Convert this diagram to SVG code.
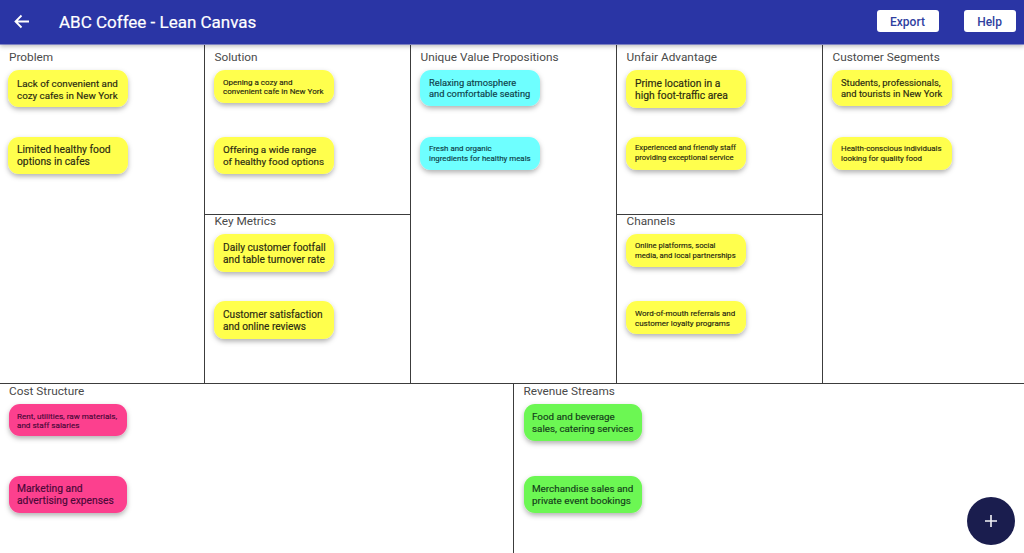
<svg xmlns="http://www.w3.org/2000/svg" width="1024" height="553" viewBox="0 0 1024 553">
<style>
text{font-family:Roboto,"Liberation Sans",sans-serif}
.h{font-size:11.800px;fill:#4a4a4a}
.n{filter:url(#s)}
.y{fill:#ffff4d}.c{fill:#6effff}.p{fill:#fc408e}.g{fill:#6cf752}
.t{fill:#2a2a12;stroke:#2a2a12;stroke-width:.15}
.tc{fill:#0f3f4a;stroke:#0f3f4a;stroke-width:.15}
.tp{fill:#4a0838;stroke:#4a0838;stroke-width:.15}
.tg{fill:#14401a;stroke:#14401a;stroke-width:.15}
.l{stroke:#3c3c3c;stroke-width:1;fill:none}
.b{font-size:12px;font-weight:500;fill:#303f9f;text-anchor:middle}
</style>
<defs>
<filter id="s" x="-20%" y="-30%" width="140%" height="170%"><feDropShadow dx="0" dy="2.500" stdDeviation="2.500" flood-color="#000" flood-opacity=".3"/></filter>
<filter id="h" x="-5%" y="-20%" width="110%" height="160%"><feDropShadow dx="0" dy="2" stdDeviation="2" flood-color="#000" flood-opacity=".25"/></filter>
</defs>
<rect width="1024" height="553" fill="#fff"/>
<g id="connectors">
<path class="l" d="M204.500 45V383.500M410.500 45V383.500M616.500 45V383.500M822.500 45V383.500M204.500 214.500H410.500M616.500 214.500H822.500M0 383.500H1024M513.500 383.500V553"/>
</g>
<g id="header">
<rect width="1024" height="44.500" fill="#2c35a5" filter="url(#h)"/>
<path d="M29 21.500H16M21.500 15.500L15.500 21.500L21.500 27.500" fill="none" stroke="#fff" stroke-width="1.800"/>
<text x="59" y="28" font-size="17px" fill="#fff" stroke="#fff" stroke-width=".2">ABC Coffee - Lean Canvas</text>
<rect x="877" y="10" width="62" height="22" rx="3" fill="#fff"/><text class="b" x="907.500" y="25.500">Export</text>
<rect x="964" y="10" width="52" height="22" rx="3" fill="#fff"/><text class="b" x="989.500" y="25.500">Help</text>
</g>
<g id="headings">
<text class="h" x="9" y="60.500">Problem</text>
<text class="h" x="214.500" y="60.500">Solution</text>
<text class="h" x="420.500" y="60.500">Unique Value Propositions</text>
<text class="h" x="626.500" y="60.500">Unfair Advantage</text>
<text class="h" x="832.500" y="60.500">Customer Segments</text>
<text class="h" x="214.500" y="224.500">Key Metrics</text>
<text class="h" x="626.500" y="224.500">Channels</text>
<text class="h" x="9" y="394.500">Cost Structure</text>
<text class="h" x="523.500" y="394.500">Revenue Streams</text>
</g>
<g id="n1"><rect class="n y" x="8" y="70" width="120" height="37" rx="11"/><text class="t" font-size="9.800px" x="17" y="87">Lack of convenient and</text><text class="t" font-size="9.800px" x="17" y="99">cozy cafes in New York</text></g>
<g id="n2"><rect class="n y" x="8" y="137" width="120" height="37" rx="11"/><text class="t" font-size="10.300px" x="17" y="153">Limited healthy food</text><text class="t" font-size="10.300px" x="17" y="165">options in cafes</text></g>
<g id="n3"><rect class="n y" x="214" y="70" width="120" height="33" rx="11"/><text class="t" font-size="8px" x="223" y="85">Opening a cozy and</text><text class="t" font-size="8px" x="223" y="94">convenient cafe in New York</text></g>
<g id="n4"><rect class="n y" x="214" y="137" width="120" height="37" rx="11"/><text class="t" font-size="9.850px" x="223" y="153">Offering a wide range</text><text class="t" font-size="9.850px" x="223" y="165">of healthy food options</text></g>
<g id="n5"><rect class="n y" x="214" y="234" width="120" height="38" rx="11"/><text class="t" font-size="10.200px" x="223" y="251">Daily customer footfall</text><text class="t" font-size="10.200px" x="223" y="263">and table turnover rate</text></g>
<g id="n6"><rect class="n y" x="214" y="301" width="120" height="38" rx="11"/><text class="t" font-size="10.100px" x="223" y="318">Customer satisfaction</text><text class="t" font-size="10.100px" x="223" y="330">and online reviews</text></g>
<g id="n7"><rect class="n c" x="420" y="70" width="120" height="36" rx="11"/><text class="tc" font-size="9.300px" x="429" y="86">Relaxing atmosphere</text><text class="tc" font-size="9.300px" x="429" y="97">and comfortable seating</text></g>
<g id="n8"><rect class="n c" x="420" y="137" width="120" height="33" rx="11"/><text class="tc" font-size="7.900px" x="429" y="151">Fresh and organic</text><text class="tc" font-size="7.900px" x="429" y="161">ingredients for healthy meals</text></g>
<g id="n9"><rect class="n y" x="626" y="70" width="120" height="38" rx="11"/><text class="t" font-size="10.300px" x="635" y="87">Prime location in a</text><text class="t" font-size="10.300px" x="635" y="99">high foot-traffic area</text></g>
<g id="n10"><rect class="n y" x="626" y="137" width="120" height="33" rx="11"/><text class="t" font-size="7.650px" x="635" y="150">Experienced and friendly staff</text><text class="t" font-size="7.650px" x="635" y="160">providing exceptional service</text></g>
<g id="n11"><rect class="n y" x="626" y="234" width="120" height="33" rx="11"/><text class="t" font-size="7.700px" x="635" y="248">Online platforms, social</text><text class="t" font-size="7.700px" x="635" y="258">media, and local partnerships</text></g>
<g id="n12"><rect class="n y" x="626" y="301" width="120" height="33" rx="11"/><text class="t" font-size="8px" x="635" y="316">Word-of-mouth referrals and</text><text class="t" font-size="8px" x="635" y="326">customer loyalty programs</text></g>
<g id="n13"><rect class="n y" x="832" y="70" width="120" height="36" rx="11"/><text class="t" font-size="9.400px" x="841" y="86">Students, professionals,</text><text class="t" font-size="9.400px" x="841" y="97">and tourists in New York</text></g>
<g id="n14"><rect class="n y" x="832" y="137" width="120" height="33" rx="11"/><text class="t" font-size="7.900px" x="841" y="151">Health-conscious individuals</text><text class="t" font-size="7.900px" x="841" y="161">looking for quality food</text></g>
<g id="n15"><rect class="n p" x="9" y="404" width="118" height="32" rx="11"/><text class="tp" font-size="8.100px" x="17" y="419">Rent, utilities, raw materials,</text><text class="tp" font-size="8.100px" x="17" y="428">and staff salaries</text></g>
<g id="n16"><rect class="n p" x="9" y="476" width="118" height="37" rx="11"/><text class="tp" font-size="10.300px" x="17" y="492">Marketing and</text><text class="tp" font-size="10.300px" x="17" y="504">advertising expenses</text></g>
<g id="n17"><rect class="n g" x="524" y="404" width="118" height="37" rx="11"/><text class="tg" font-size="9.800px" x="532" y="420">Food and beverage</text><text class="tg" font-size="9.800px" x="532" y="432">sales, catering services</text></g>
<g id="n18"><rect class="n g" x="524" y="476" width="118" height="37" rx="11"/><text class="tg" font-size="9.900px" x="532" y="492">Merchandise sales and</text><text class="tg" font-size="9.900px" x="532" y="504">private event bookings</text></g>
<g id="fab"><circle cx="991" cy="521" r="24" fill="#1a1d4e"/><path d="M991 515V527M985 521H997" stroke="#f4f4f8" stroke-width="1.600"/></g>
</svg>
